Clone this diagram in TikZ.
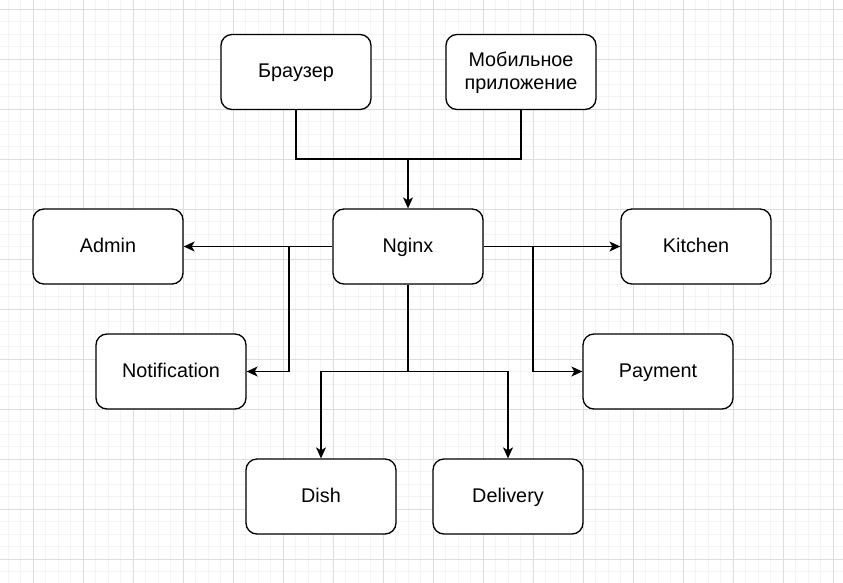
\documentclass[tikz,border=0pt]{standalone}
\usepackage{fontspec}
\setmainfont{Liberation Sans}
\usetikzlibrary{arrows.meta}
\definecolor{gridminor}{HTML}{F4F4F4}
\definecolor{gridmajor}{HTML}{DDDDDD}

\begin{document}
\begin{tikzpicture}[x=1pt,y=-1pt,
  svc/.style={draw,line width=1.3pt,rounded corners=11pt,fill=white,
    minimum width=150pt,minimum height=75pt,align=center,
    text height=14pt,text depth=2pt,
    font=\fontsize{19.8}{23}\selectfont},
  link/.style={line width=1.3pt,-{Stealth[length=11pt,width=10pt,inset=3pt]}},
  wire/.style={line width=1.3pt}]
% Background grid
\useasboundingbox (0,0) rectangle (843,583);
\fill[white] (0,0) rectangle (843,583);
\foreach \x in {8,20.5,...,843} {
    \draw[gridminor,line width=1pt] (\x,0) -- (\x,583);
}
\foreach \y in {-3.2,9.3,...,583} {
    \draw[gridminor,line width=1pt] (0,\y) -- (843,\y);
}
\foreach \x in {33,83,...,843} {
    \draw[gridmajor,line width=1pt] (\x,0) -- (\x,583);
}
\foreach \y in {9.3,59.3,...,583} {
    \draw[gridmajor,line width=1pt] (0,\y) -- (843,\y);
}

% Clients
\node[svc] (browser) at (296,72) {Браузер};
\node[svc,text height=37pt] (mobile) at (521,72) {Мобильное\\приложение};

% Gateway
\node[svc] (nginx) at (408,246.5) {Nginx};

% Services
\node[svc] (admin) at (108,246.5) {Admin};
\node[svc] (kitchen) at (696,246.5) {Kitchen};
\node[svc] (notif) at (171,371.5) {Notification};
\node[svc] (payment) at (658,371.5) {Payment};
\node[svc] (dish) at (321,496.5) {Dish};
\node[svc] (delivery) at (508,496.5) {Delivery};

% Clients -> Nginx
\coordinate (join) at (408,159);
\draw[link] (browser.south) |- (join) -- (nginx.north);
\draw[wire] (mobile.south) |- (join);

% Nginx -> services
\coordinate (lsplit) at (289,246.5);
\coordinate (rsplit) at (533,246.5);
\coordinate (bsplit) at (408,371.5);
\draw[link] (nginx.west) -- (admin.east);
\draw[link] (lsplit) |- (notif.east);
\draw[link] (nginx.east) -- (kitchen.west);
\draw[link] (rsplit) |- (payment.west);
\draw[wire] (nginx.south) -- (bsplit);
\draw[link] (bsplit) -| (dish.north);
\draw[link] (bsplit) -| (delivery.north);
\end{tikzpicture}
\end{document}
